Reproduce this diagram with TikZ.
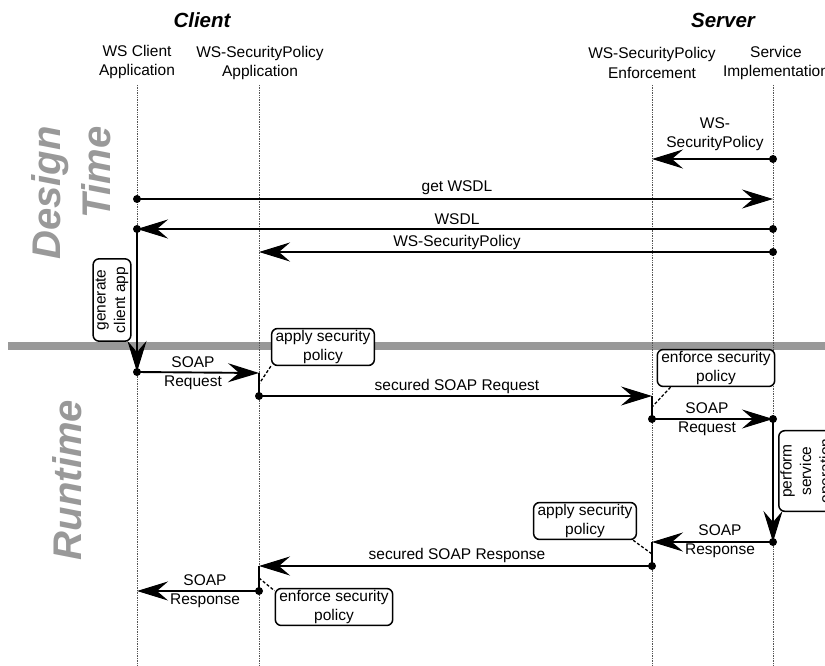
\documentclass[tikz,border=0pt]{standalone}
\usepackage{fontspec}
\setmainfont{Liberation Sans}
\usetikzlibrary{arrows.meta}
\definecolor{phase}{HTML}{999999}
\definecolor{lifeg}{HTML}{555555}
\begin{document}
\begin{tikzpicture}[x=1pt,y=-1pt,
  txt/.style={font=\fontsize{15.5}{19.5}\selectfont, align=center, inner sep=1pt},
  head/.style={font=\fontsize{20.5}{24}\selectfont\bfseries\itshape},
  phasetxt/.style={font=\fontsize{40}{50}\selectfont\bfseries\itshape, text=phase, rotate=90, inner sep=0pt},
  lifeline/.style={densely dotted, lifeg, line width=0.7pt},
  msg/.style={line width=1.9pt, -{Stealth[length=31pt,width=19pt,inset=11pt]}},
  act/.style={line width=1.9pt},
  notebox/.style={draw, line width=1.5pt, rounded corners=6pt, fill=white, txt, inner xsep=4pt, inner ysep=1.5pt},
  link/.style={dashed, line width=1.3pt, dash pattern=on 3pt off 2pt},
  dot/.style={circle, fill=black, inner sep=0pt, minimum size=8pt}
]
\useasboundingbox (0,0) rectangle (825,666);
\clip (0,0) rectangle (825,666);

% phase separator
\fill[phase] (8,342) rectangle (825,350);

% headers
\node[head] (client) at (202,20) {Client};
\node[head] (server) at (723,20) {Server};

% lifeline labels
\node[txt] (lA) at (137,62) {WS Client\\Application};
\node[txt] (lB) at (260,63) {WS-SecurityPolicy\\Application};
\node[txt] (lC) at (652,63) {WS-SecurityPolicy\\Enforcement};
\node[txt] (lD) at (776,63) {Service\\Implementation};

% lifelines
\coordinate (tA) at (137,85); \coordinate (bA) at (137,666);
\coordinate (tB) at (259,85); \coordinate (bB) at (259,666);
\coordinate (tC) at (652,85); \coordinate (bC) at (652,666);
\coordinate (tD) at (773,85); \coordinate (bD) at (773,666);
\draw[lifeline] (tA) -- (bA);
\draw[lifeline] (tB) -- (bB);
\draw[lifeline] (tC) -- (bC);
\draw[lifeline] (tD) -- (bD);

% phase labels
\node[phasetxt, align=right] (design) at (71,193) {Design\\Time};
\node[phasetxt] (runtime) at (67,480) {Runtime};

% event points
\node[dot] (d1) at (773,159) {};
\coordinate (e1) at (652,159);
\node[dot] (d2) at (137,199) {};
\coordinate (e2) at (773,199);
\node[dot] (d3) at (773,229) {};
\node[dot] (e3) at (137,229) {};
\node[dot] (d4) at (773,252) {};
\coordinate (e4) at (259,252);
\node[dot] (g1) at (137,372) {};
\coordinate (e5) at (259,373);
\coordinate (pa1) at (259,384);
\node[dot] (d6) at (259,396) {};
\coordinate (e6) at (652,396);
\coordinate (pe1) at (652,407);
\node[dot] (d7) at (652,419) {};
\node[dot] (e7) at (773,419) {};
\node[dot] (d8) at (773,542) {};
\coordinate (e8) at (652,542);
\coordinate (pa2) at (652,554);
\node[dot] (d9) at (652,566) {};
\coordinate (e9) at (259,566);
\coordinate (pe2) at (259,578);
\node[dot] (d10) at (259,591) {};
\coordinate (e10) at (137,591);

% design-time messages
\draw[msg] (d1.center) -- (e1);
\node[txt] (m1) at (715,134) {WS-\\SecurityPolicy};
\draw[msg] (d2.center) -- (e2);
\node[txt] (m2) at (457,188) {get WSDL};
\draw[msg] (d3.center) -- (e3.center);
\node[txt] (m3) at (457,219) {WSDL};
\draw[msg] (d4.center) -- (e4);
\node[txt] (m4) at (457,242) {WS-SecurityPolicy};

% generate client app
\draw[msg] (e3.center) -- (g1.center);
\node[notebox, rotate=90, inner xsep=8pt, inner ysep=2.5pt] (gen) at (112,300) {generate\\client app};

% runtime messages
\draw[msg] (g1.center) -- (e5);
\node[txt] (m5) at (193,373) {SOAP\\Request};
\draw[act] (e5) -- (d6.center);
\node[notebox] (ap1) at (323,347) {apply security\\policy};
\draw[link] (ap1.south west) -- (pa1);

\draw[msg] (d6.center) -- (e6);
\node[txt] (m6) at (457,386) {secured SOAP Request};
\draw[act] (e6) -- (d7.center);
\node[notebox] (en1) at (716,368) {enforce security\\policy};
\draw[link] ([xshift=14pt]en1.south west) -- (pe1);

\draw[msg] (d7.center) -- (e7.center);
\node[txt] (m7) at (707,419) {SOAP\\Request};
\draw[msg] (e7.center) -- (d8.center);
\node[notebox, rotate=90, inner xsep=8pt] (perf) at (807,471) {perform\\service\\operation};

\draw[msg] (d8.center) -- (e8);
\node[txt] (m8) at (720,541) {SOAP\\Response};
\draw[act] (e8) -- (d9.center);
\node[notebox] (ap2) at (585,521) {apply security\\policy};
\draw[link] ([xshift=-4pt]ap2.south east) -- (pa2);

\draw[msg] (d9.center) -- (e9);
\node[txt] (m9) at (457,555) {secured SOAP Response};
\draw[act] (e9) -- (d10.center);
\node[notebox] (en2) at (334,607) {enforce security\\policy};
\draw[link] (pe2) -- ([yshift=-3pt]en2.north west);

\draw[msg] (d10.center) -- (e10);
\node[txt] (m10) at (205,591) {SOAP\\Response};
\end{tikzpicture}
\end{document}
